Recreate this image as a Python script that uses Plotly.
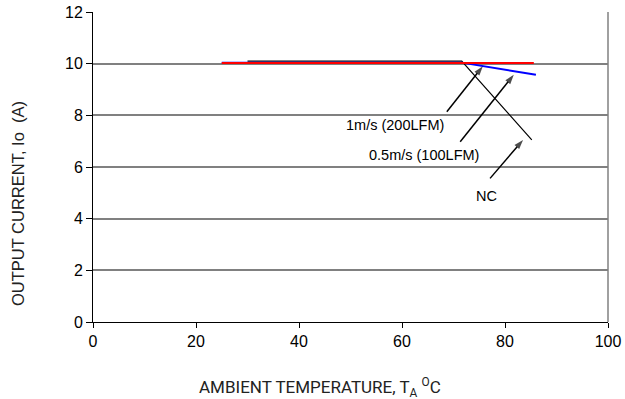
import plotly.graph_objects as go

# Data
nc_x = [30, 71.6, 85.2]
nc_y = [10.1, 10.1, 7.05]
half_x = [25, 71.6, 86.0]
half_y = [10.04, 10.04, 9.57]
one_x = [25, 85.6]
one_y = [10.03, 10.03]

x_ticks = [0, 20, 40, 60, 80, 100]
y_ticks = [0, 2, 4, 6, 8, 10, 12]

# annotation anchors (data units): label, label pos, arrow tail, arrow tip
labels = ["1m/s (200LFM)", "0.5m/s (100LFM)", "NC"]
label_x = [58.6, 64.3, 76.4]
label_y = [7.63, 6.47, 4.88]
tail_x = [68.7, 71.3, 77.1]
tail_y = [8.14, 6.98, 5.56]
tip_x = [75.7, 81.7, 83.5]
tip_y = [9.90, 9.57, 7.05]

fig = go.Figure()
fig.add_trace(go.Scatter(x=nc_x, y=nc_y, mode="lines",
                         line=dict(color="black", width=1.2), showlegend=False))
fig.add_trace(go.Scatter(x=half_x, y=half_y, mode="lines",
                         line=dict(color="#0000ff", width=2), showlegend=False))
fig.add_trace(go.Scatter(x=one_x, y=one_y, mode="lines",
                         line=dict(color="#ff0000", width=2), showlegend=False))

# arrows as line traces with arrow-head markers
for txx, tyy, px, py in zip(tail_x, tail_y, tip_x, tip_y):
    fig.add_trace(go.Scatter(
        x=[txx, px], y=[tyy, py], mode="lines+markers",
        line=dict(color="black", width=1.5),
        marker=dict(symbol=["circle", "arrow"], size=[0, 10], color="black",
                    angleref="previous", line=dict(width=0)),
        showlegend=False, hoverinfo="skip"))

for lab, lx, ly in zip(labels, label_x, label_y):
    fig.add_annotation(x=lx, y=ly, xref="x", yref="y", text=lab,
                       showarrow=False,
                       font=dict(family="Liberation Sans, Arial", size=14.5, color="black"))

fig.add_annotation(text="AMBIENT TEMPERATURE, T<sub>A</sub> <sup>O</sup>C",
                   xref="paper", yref="paper", x=(320 - 93) / 515, y=-(387 - 322) / 310,
                   showarrow=False, xanchor="center", yanchor="middle",
                   font=dict(family="Roboto, Liberation Sans", size=17, color="#222"))
fig.add_annotation(text="OUTPUT CURRENT, Io  (A)",
                   xref="paper", yref="paper", x=-(93 - 18) / 515, y=(322 - 204) / 310,
                   textangle=-90, showarrow=False, xanchor="center", yanchor="middle",
                   font=dict(family="Liberation Sans, Arial", size=16.5, color="#222"))

# right border
fig.add_shape(type="line", xref="paper", yref="paper", x0=1, x1=1, y0=0, y1=1,
              line=dict(color="#808080", width=1.5))

fig.update_layout(
    width=625, height=399, autosize=False,
    margin=dict(l=93, r=17, t=12, b=77, pad=0),
    paper_bgcolor="white", plot_bgcolor="white",
    font=dict(family="Liberation Sans, Arial", size=16, color="black"),
    xaxis=dict(range=[0, 100], tickvals=x_ticks, ticks="outside", ticklen=5,
               tickcolor="black", showline=True, linecolor="black", linewidth=1,
               showgrid=False, zeroline=False, tickfont=dict(size=16),
               automargin=False),
    yaxis=dict(range=[0, 12], tickvals=y_ticks, ticks="outside", ticklen=6,
               tickcolor="black", showline=True, linecolor="black", linewidth=1,
               showgrid=True, gridcolor="#808080", gridwidth=1.5, zeroline=False,
               tickfont=dict(size=16), automargin=False),
)

fig.write_html("out.html")
